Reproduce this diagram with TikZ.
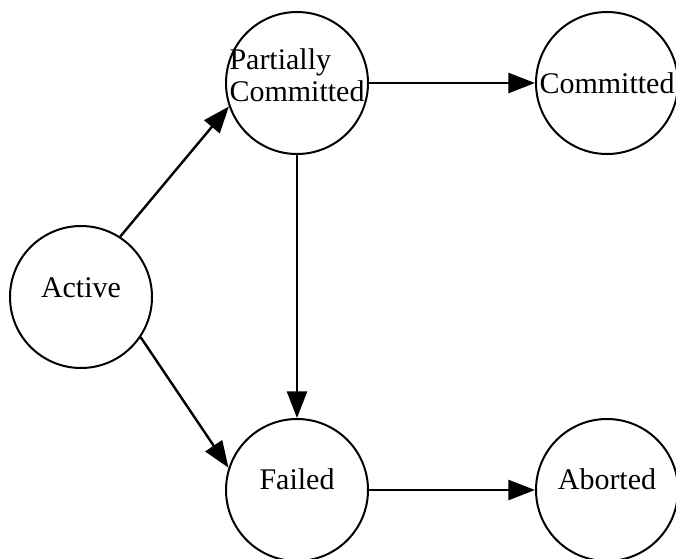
\documentclass[tikz,border=0pt]{standalone}
\usepackage{fontspec}
\setmainfont{Liberation Serif}
\usetikzlibrary{arrows.meta}

% lift a label a little above the circle's centre
\newcommand{\lifted}[2][4.5pt]{\raisebox{#1}[\height][\depth]{#2}}
% a two-line label that takes no room, so the circle keeps its size
\newcommand{\twolines}[2]{\raisebox{-1.7pt}[0pt][0pt]{\makebox[0pt]{%
    \begin{tabular}{@{}l@{}}#1\\#2\end{tabular}}}}

\begin{document}
\begin{tikzpicture}[x=0.5pt, y=-0.5pt,
    state/.style={draw, circle, line width=1pt, minimum size=71pt, inner sep=0pt,
                  font=\fontsize{15}{16}\selectfont, align=left},
    move/.style={line width=1.2pt, -{Triangle[length=13.3pt, width=10pt]}}]

    % Fix the page to the size of the reference
    \useasboundingbox (0,0) rectangle (676,558);

    % The five states
    \node[state] (active)    at (81, 297)  {\lifted{Active}};
    \node[state] (partial)   at (297, 83)  {\twolines{Partially}{Committed}};
    \node[state] (committed) at (607, 83)  {Committed};
    \node[state] (failed)    at (297, 490) {\lifted[5.5pt]{Failed}};
    \node[state] (aborted)   at (607, 490) {\lifted[5.5pt]{Aborted}};

    % Transitions between the states
    \draw[move] (active.57)     -- (partial.199);
    \draw[move] (active.-34)    -- (failed.162);
    \draw[move] (partial.south) -- (failed.north);
    \draw[move] (partial.east)  -- (committed.west);
    \draw[move] (failed.east)   -- (aborted.west);

\end{tikzpicture}
\end{document}
